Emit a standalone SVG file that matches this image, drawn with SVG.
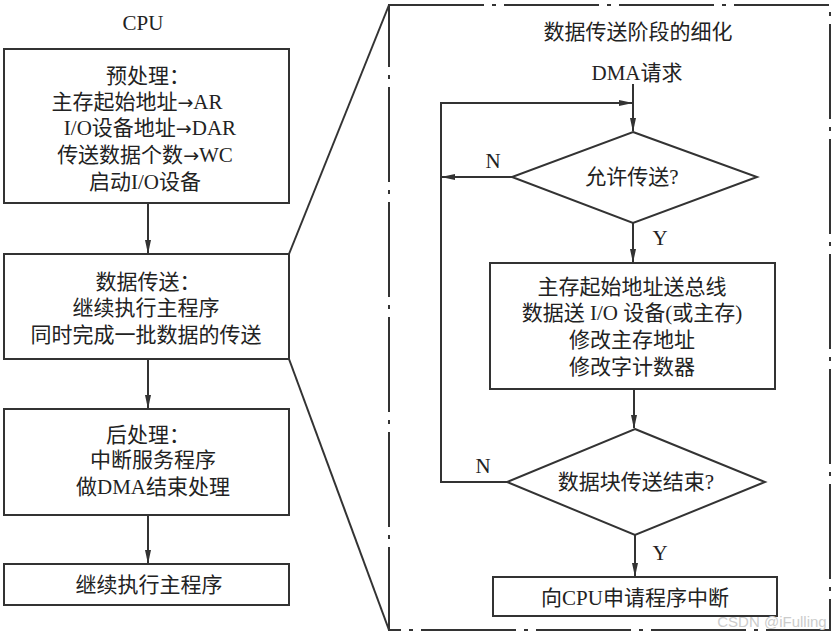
<svg xmlns="http://www.w3.org/2000/svg" width="835" height="637" viewBox="0 0 835 637">
<style>
text{font-family:"Liberation Serif","Noto Sans CJK SC",serif;font-size:21px;fill:#222;text-anchor:middle;dominant-baseline:central}
.ar{font-family:"DejaVu Sans",sans-serif;font-size:19px}
.box{fill:#fff;stroke:#333;stroke-width:2}
.ln{fill:none;stroke:#333;stroke-width:2}
.frame{fill:none;stroke:#333;stroke-width:2;stroke-dasharray:95 8 4 8}
</style>
<defs>
<marker id="ah" markerWidth="14" markerHeight="8" refX="13" refY="4" orient="auto" markerUnits="userSpaceOnUse">
<path d="M0,1 L14,4 L0,7 Z" fill="#333"/>
</marker>
</defs>
<rect width="835" height="637" fill="#fff"/>
<text x="143" y="23">CPU</text>
<g id="frame">
<rect class="frame" x="389" y="5" width="441" height="625"/>
<text x="638" y="32">数据传送阶段的细化</text>
</g>
<g id="connectors">
<line class="ln" x1="148" y1="203" x2="148" y2="253" marker-end="url(#ah)"/>
<line class="ln" x1="148" y1="359" x2="148" y2="408" marker-end="url(#ah)"/>
<line class="ln" x1="148" y1="515" x2="148" y2="563" marker-end="url(#ah)"/>
<line class="ln" x1="289" y1="254" x2="389" y2="5"/>
<line class="ln" x1="289" y1="359" x2="389" y2="630"/>
<line class="ln" x1="633" y1="84" x2="633" y2="131" marker-end="url(#ah)"/>
<polyline class="ln" points="507,482 441,482 441,103 632,103" marker-end="url(#ah)"/>
<line class="ln" x1="512" y1="177" x2="442" y2="177" marker-end="url(#ah)"/>
<line class="ln" x1="633" y1="223" x2="633" y2="262" marker-end="url(#ah)"/>
<line class="ln" x1="634" y1="389" x2="634" y2="428" marker-end="url(#ah)"/>
<line class="ln" x1="635" y1="535" x2="635" y2="576" marker-end="url(#ah)"/>
<text x="493" y="161">N</text>
<text x="660" y="238">Y</text>
<text x="483" y="466">N</text>
<text x="660" y="553">Y</text>
</g>
<g id="pre">
<rect class="box" x="4" y="49" width="285" height="154"/>
<text x="148" y="76">预处理：</text>
<text x="137" y="102">主存起始地址<tspan class="ar">→</tspan>AR</text>
<text x="150" y="128">I/O设备地址<tspan class="ar">→</tspan>DAR</text>
<text x="145" y="155">传送数据个数<tspan class="ar">→</tspan>WC</text>
<text x="145" y="182">启动I/O设备</text>
</g>
<g id="transfer">
<rect class="box" x="4" y="254" width="285" height="105"/>
<text x="148" y="282">数据传送：</text>
<text x="146" y="308">继续执行主程序</text>
<text x="146" y="335">同时完成一批数据的传送</text>
</g>
<g id="post">
<rect class="box" x="4" y="409" width="285" height="106"/>
<text x="148" y="435">后处理：</text>
<text x="153" y="460">中断服务程序</text>
<text x="153" y="487">做DMA结束处理</text>
</g>
<g id="continue">
<rect class="box" x="4" y="564" width="285" height="41"/>
<text x="149" y="585">继续执行主程序</text>
</g>
<g id="dmareq">
<text x="637" y="73">DMA请求</text>
</g>
<g id="allow">
<polygon class="box" points="633,132 757,177 633,223 512,177"/>
<text x="632" y="177">允许传送?</text>
</g>
<g id="ops">
<rect class="box" x="490" y="263" width="285" height="126"/>
<text x="632" y="287">主存起始地址送总线</text>
<text x="632" y="313">数据送 I/O 设备(或主存)</text>
<text x="632" y="340">修改主存地址</text>
<text x="632" y="367">修改字计数器</text>
</g>
<g id="done">
<polygon class="box" points="635,429 765,482 635,535 507,482"/>
<text x="636" y="482">数据块传送结束?</text>
</g>
<g id="interrupt">
<rect class="box" x="493" y="577" width="284" height="39"/>
<text x="635" y="598">向CPU申请程序中断</text>
</g>
<text x="772" y="621" style="font-family:'Liberation Sans',sans-serif;font-size:15px;fill:#ccc">CSDN @iFulling</text>
</svg>
